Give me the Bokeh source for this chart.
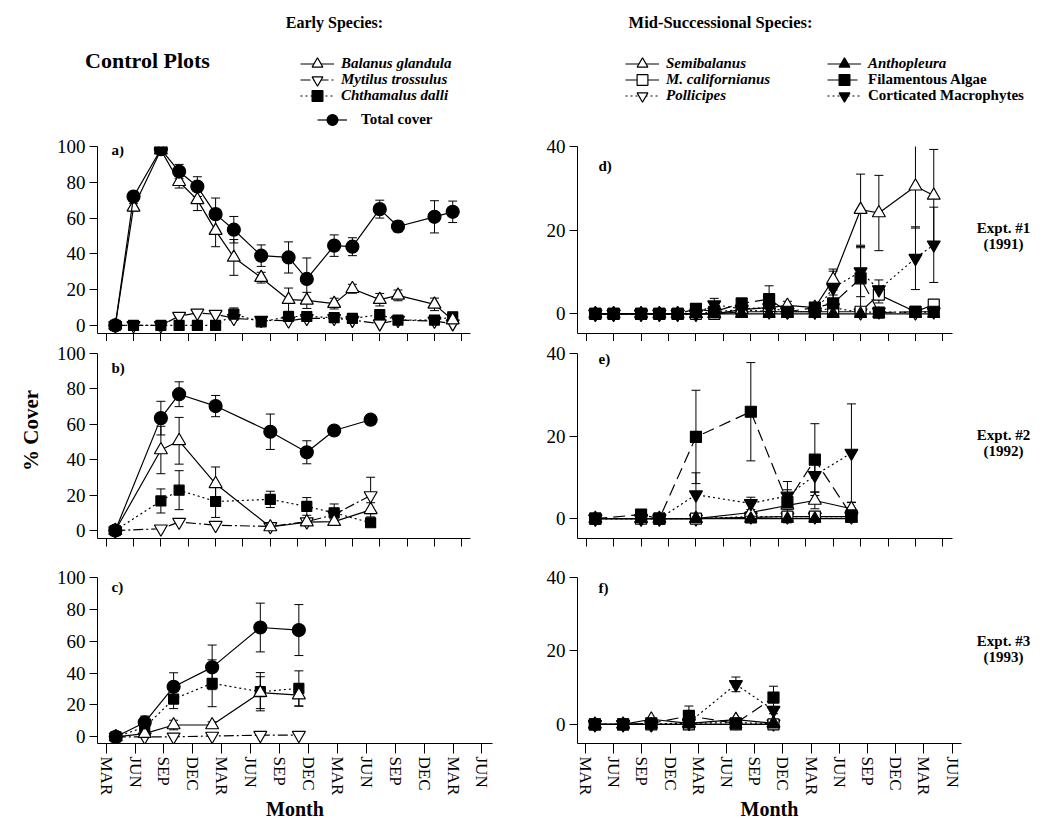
import math
from bokeh.plotting import figure
from bokeh.models import (Range1d, FixedTicker, Whisker, TeeHead, ColumnDataSource,
                          Legend, LegendItem, Label)
from bokeh.layouts import column, row
from bokeh.embed import file_html
from bokeh.resources import INLINE

FONT = "Liberation Serif"

# ---------------- axes ----------------
TICK_MONTHS = [0, 3, 6, 9, 12, 15, 18, 21, 24, 27, 30, 33, 36, 39]
TICK_LABELS = ["MAR", "JUN", "SEP", "DEC", "MAR", "JUN", "SEP", "DEC",
               "MAR", "JUN", "SEP", "DEC", "MAR", "JUN"]
LEFT_YTICKS = [0, 20, 40, 60, 80, 100]
RIGHT_YTICKS = [0, 20, 40]

# ---------------- Expt #1 (1991) : panels a, d ----------------
MONTHS_1 = [1, 3, 6, 8, 10, 12, 14, 17, 20, 22, 25, 27, 30, 32, 36, 38]
A_TOTAL = [0, 72, 98.5, 86, 77.6, 62.2, 53.5, 39, 38, 26, 44.6, 44, 65, 55.3, 60.7, 63.5]
A_TOTAL_ERR = [0, 2, 1, 4, 5.5, 9, 7.4, 6, 8.7, 11.7, 6, 5, 5, 3, 9, 6]
A_BALANUS = [0, 66, 98, 80.3, 70.2, 53, 38, 26.7, 14.4, 14, 12.2, 20.5, 14.4, 16.8, 11.8, 3]
A_BALANUS_ERR = [0, 2, 1, 3.5, 6, 9, 10, 3, 6.5, 4.5, 3, 2.5, 3.5, 3, 3.5, 1]
A_MYTILUS = [0, 0, 0, 5.2, 7, 6.3, 4, 3, 2.6, 4, 4, 3, 1, 3, 2.5, 1]
A_CHTHAMALUS = [0, 0, 0, 0, 0, 0, 6.3, 2, 5, 5, 4.4, 3.9, 6, 3, 3, 4.8]
A_CHTHAMALUS_ERR = [0, 0, 0, 0, 0, 0, 3.5, 1.5, 2, 2, 1, 1, 1, 1, 1, 1]

D_SEMI = [0, 0, 0, 0, 0, 0, 0, 1, 1.5, 2, 1.5, 8.2, 24.9, 24.1, 30.5, 28.3]
D_SEMI_ERR = [0, 0, 0, 0, 0, 0, 0, 0.5, 1, 1, 1, 2.5, 8.5, 9, 10, 11]
D_MCAL = [0, 0, 0, 0, 0, 0, 0, 0.5, 0.5, 0.5, 0.5, 0.5, 0.5, 4.6, 0.5, 2.2]
D_MCAL_ERR = [0, 0, 0, 0, 0, 0, 0, 0, 0, 0, 0, 0, 0, 2, 0, 1]
D_POLL = [0, 0, 0, 0, 0, 0, 0.5, 1, 0.5, 0.5, 0.5, 1.5, 0.3, 0.5, 0.3, 0.5]
D_ANTH = [0, 0, 0, 0, 0, 0, 0, 0, 0, 0, 0, 0, 0, 0, 0, 0]
D_FILA = [0, 0, 0, 0, 0, 1.2, 0.5, 2.5, 3.5, 0.5, 1.5, 2.5, 8.5, 0.3, 0.5, 0.5]
D_FILA_ERR = [0, 0, 0, 0, 0, 0.8, 0, 1, 3.2, 0, 0.5, 2, 7.3, 0, 0, 0]
D_CORT = [0, 0, 0, 0, 0, 0, 2.2, 1.2, 1.5, 0.5, 0.5, 6.2, 10.1, 5.8, 13.3, 16.5]
D_CORT_ERR = [0, 0, 0, 0, 0, 0, 1.5, 0.5, 0.5, 0, 0, 4, 6, 2.3, 7.5, 9]

# ---------------- Expt #2 (1992) : panels b, e ----------------
MONTHS_2 = [1, 6, 8, 12, 18, 22, 25, 29]
B_TOTAL = [0, 63.5, 77, 70.3, 55.8, 44.2, 56.5, 62.6]
B_TOTAL_ERR = [0, 9.5, 7, 6, 10, 6.5, 1.5, 2.5]
B_BALANUS = [0, 45.5, 50.7, 26.4, 2, 4.8, 5, 11.7]
B_BALANUS_ERR = [0, 13.4, 13.2, 9.5, 1, 1.5, 1.5, 4]
B_MYTILUS = [0, 1, 4.8, 3, 2.3, 5, 9, 19.8]
B_MYTILUS_ERR = [0, 0, 0, 0, 1, 0, 0, 10.3]
B_CHTHAMALUS = [0, 16.7, 22.8, 16.4, 17.6, 13.6, 10, 4.4]
B_CHTHAMALUS_ERR = [0, 6.8, 11, 9, 4.6, 5, 5, 1]

E_SEMI = [0, 0, 0, 0, 1.5, 3.2, 4.4, 2.4]
E_SEMI_ERR = [0, 0, 0, 0, 0, 1, 2, 1.5]
E_MCAL = [0, 0, 0, 0, 0.3, 0.5, 0.5, 0.5]
E_POLL = [0, 0, 0, 0, 0.5, 0.5, 0.5, 0.5]
E_ANTH = [0, 0, 0, 0, 0, 0, 0, 0]
E_FILA = [0, 1.0, 0, 19.8, 25.9, 4, 14.3, 0.8]
E_FILA_ERR = [0, 0, 0, 11.3, 11.9, 5, 8.7, 0.5]
E_CORT = [0, 0, 0, 5.8, 3.7, 5.5, 10.5, 15.9]
E_CORT_ERR = [0, 0, 0, 5.3, 1.5, 1.5, 4, 11.9]

# ---------------- Expt #3 (1993) : panels c, f ----------------
MONTHS_3 = [1, 4, 7, 11, 16, 20]
C_TOTAL = [0, 9, 31.4, 43.6, 68.6, 67]
C_TOTAL_ERR = [0, 4, 8.8, 14, 15.3, 16]
C_BALANUS = [0, 2, 7.4, 7.4, 27.7, 26.2]
C_BALANUS_ERR = [0, 1, 3, 2, 10, 7]
C_MYTILUS = [0, 0, 0, 0.5, 1, 1]
C_CHTHAMALUS = [0, 6, 23.7, 33.6, 28.3, 30.4]
C_CHTHAMALUS_ERR = [0, 4, 6, 14.7, 12, 11]

F_SEMI = [0, 0, 1.4, 0.3, 1.3, 0.3]
F_MCAL = [0, 0, 0, 0, 0, 0]
F_POLL = [0, 0, 0, 0.3, 0.5, 0.2]
F_ANTH = [0, 0, 0, 0, 0, 0]
F_FILA = [0, 0, 0.3, 2.3, 0.3, 7.3]
F_FILA_ERR = [0, 0, 0, 2.7, 0, 3.1]
F_CORT = [0, 0, 0, 0.5, 10.9, 3.9]
F_CORT_ERR = [0, 0, 0, 0, 2, 1]

EXPT_LABELS = [("Expt. #1", "(1991)"), ("Expt. #2", "(1992)"), ("Expt. #3", "(1993)")]

STYLE = {
    "Balanus glandula": dict(marker="triangle", fill="white", dash="solid", size=13),
    "Mytilus trossulus": dict(marker="inverted_triangle", fill="white", dash="10 3 2 3", size=13),
    "Chthamalus dalli": dict(marker="square", fill="black", dash="2 3", size=10),
    "Total cover": dict(marker="circle", fill="black", dash="solid", size=13),
    "Semibalanus": dict(marker="triangle", fill="white", dash="solid", size=13),
    "M. californianus": dict(marker="square", fill="white", dash="solid", size=11),
    "Pollicipes": dict(marker="inverted_triangle", fill="white", dash="2 3", size=13),
    "Anthopleura": dict(marker="triangle", fill="black", dash="solid", size=12),
    "Filamentous Algae": dict(marker="square", fill="black", dash="12 6", size=11),
    "Corticated Macrophytes": dict(marker="inverted_triangle", fill="black", dash="2 3", size=13),
}


def draw_series(p, months, vals, errs, name):
    st = STYLE[name]
    src = ColumnDataSource(dict(x=months, y=vals))
    p.line("x", "y", source=src, line_color="black", line_width=1.2, line_dash=st["dash"])
    if errs is not None:
        xs = [m for m, e in zip(months, errs) if e > 0]
        up = [v + e for v, e in zip(vals, errs) if e > 0]
        lo = [v - e for v, e in zip(vals, errs) if e > 0]
        wsrc = ColumnDataSource(dict(x=xs, upper=up, lower=lo))
        p.add_layout(Whisker(source=wsrc, base="x", upper="upper", lower="lower",
                             line_color="black", line_width=1,
                             upper_head=TeeHead(size=9, line_color="black", line_width=1),
                             lower_head=TeeHead(size=9, line_color="black", line_width=1)))
    p.scatter("x", "y", source=src, marker=st["marker"], size=st["size"],
              fill_color=st["fill"], line_color="black", line_width=1.2)


def make_panel(width, height, bl, bt, br, bb, xr, yr, yticks, show_x):
    p = figure(width=width, height=height, x_range=Range1d(*xr), y_range=Range1d(*yr),
               output_backend="svg", toolbar_location=None,
               min_border_left=bl, min_border_top=bt, min_border_right=br,
               min_border_bottom=bb)
    p.outline_line_color = None
    p.grid.visible = False
    xa = p.xaxis[0]
    ya = p.yaxis[0]
    xa.axis_line_color = "black"
    if show_x:
        xa.ticker = FixedTicker(ticks=TICK_MONTHS)
        xa.major_label_overrides = {m: l for m, l in zip(TICK_MONTHS, TICK_LABELS)}
        xa.minor_tick_line_color = None
        xa.major_tick_in = 0
        xa.major_tick_out = 10
        xa.major_tick_line_color = "black"
        xa.major_label_orientation = "vertical"
        xa.major_label_text_font = FONT
        xa.major_label_text_font_size = "17px"
        xa.major_label_text_color = "black"
        xa.major_label_standoff = 3
        xa.axis_label = "Month"
        xa.axis_label_text_font = FONT
        xa.axis_label_text_font_size = "20px"
        xa.axis_label_text_font_style = "bold"
        xa.axis_label_text_color = "black"
        xa.axis_label_standoff = 0
    else:
        # unlabelled month ticks
        xa.ticker = FixedTicker(ticks=[], minor_ticks=TICK_MONTHS)
        xa.major_tick_line_color = None
        xa.minor_tick_in = 0
        xa.minor_tick_out = 8
        xa.minor_tick_line_color = "black"
        xa.minor_tick_line_width = 1
    ya.ticker = FixedTicker(ticks=yticks)
    ya.minor_tick_line_color = None
    ya.major_tick_in = 0
    ya.major_tick_out = 8
    ya.axis_line_color = "black"
    ya.major_tick_line_color = "black"
    ya.major_label_text_font = FONT
    ya.major_label_text_font_size = "19px"
    ya.major_label_text_color = "black"
    ya.major_label_standoff = 4
    return p


def panel_letter(p, text, x, y):
    p.add_layout(Label(x=x, y=y, x_units="screen", y_units="screen", text=text,
                       text_font=FONT, text_font_size="15px", text_font_style="bold",
                       text_baseline="middle", text_align="left", text_color="black"))


def blank(width, height, x0, y0):
    f = figure(width=width, height=height, x_range=Range1d(x0, x0 + width),
               y_range=Range1d(y0 + height, y0), output_backend="svg",
               toolbar_location=None, min_border=0)
    f.axis.visible = False
    f.grid.visible = False
    f.outline_line_color = None
    return f


LW, RW = 475, 445

# ---- left column ----
pa = make_panel(LW, 211, 52, 16, 50, 8, (-0.95, 39.95), (-4.5, 100), LEFT_YTICKS, False)
draw_series(pa, MONTHS_1, A_MYTILUS, None, "Mytilus trossulus")
draw_series(pa, MONTHS_1, A_CHTHAMALUS, A_CHTHAMALUS_ERR, "Chthamalus dalli")
draw_series(pa, MONTHS_1, A_BALANUS, A_BALANUS_ERR, "Balanus glandula")
draw_series(pa, MONTHS_1, A_TOTAL, A_TOTAL_ERR, "Total cover")
panel_letter(pa, "a)", 14, 184)

pb = make_panel(LW, 209, 52, 12, 50, 10, (-0.95, 39.95), (-4.5, 100), LEFT_YTICKS, False)
draw_series(pb, MONTHS_2, B_MYTILUS, B_MYTILUS_ERR, "Mytilus trossulus")
draw_series(pb, MONTHS_2, B_CHTHAMALUS, B_CHTHAMALUS_ERR, "Chthamalus dalli")
draw_series(pb, MONTHS_2, B_BALANUS, B_BALANUS_ERR, "Balanus glandula")
draw_series(pb, MONTHS_2, B_TOTAL, B_TOTAL_ERR, "Total cover")
panel_letter(pb, "b)", 14, 171)

pc = make_panel(LW, 285, 52, 27, 28, 92, (-0.9, 40.1), (-4.2, 100), LEFT_YTICKS, True)
draw_series(pc, MONTHS_3, C_MYTILUS, None, "Mytilus trossulus")
draw_series(pc, MONTHS_3, C_CHTHAMALUS, C_CHTHAMALUS_ERR, "Chthamalus dalli")
draw_series(pc, MONTHS_3, C_BALANUS, C_BALANUS_ERR, "Balanus glandula")
draw_series(pc, MONTHS_3, C_TOTAL, C_TOTAL_ERR, "Total cover")
panel_letter(pc, "c)", 14, 157)

# ---- right column ----
pd_ = make_panel(RW, 211, 57, 14, 13, 8, (-0.95, 40.05), (-4.7, 40), RIGHT_YTICKS, False)
draw_series(pd_, MONTHS_1, D_POLL, None, "Pollicipes")
draw_series(pd_, MONTHS_1, D_MCAL, D_MCAL_ERR, "M. californianus")
draw_series(pd_, MONTHS_1, D_SEMI, D_SEMI_ERR, "Semibalanus")
draw_series(pd_, MONTHS_1, D_CORT, D_CORT_ERR, "Corticated Macrophytes")
draw_series(pd_, MONTHS_1, D_FILA, D_FILA_ERR, "Filamentous Algae")
draw_series(pd_, MONTHS_1, D_ANTH, None, "Anthopleura")
panel_letter(pd_, "d)", 21, 168)

pe = make_panel(RW, 209, 57, 12, 13, 12, (-0.95, 40.05), (-4.8, 40), RIGHT_YTICKS, False)
draw_series(pe, MONTHS_2, E_POLL, None, "Pollicipes")
draw_series(pe, MONTHS_2, E_MCAL, None, "M. californianus")
draw_series(pe, MONTHS_2, E_SEMI, E_SEMI_ERR, "Semibalanus")
draw_series(pe, MONTHS_2, E_CORT, E_CORT_ERR, "Corticated Macrophytes")
draw_series(pe, MONTHS_2, E_FILA, E_FILA_ERR, "Filamentous Algae")
draw_series(pe, MONTHS_2, E_ANTH, None, "Anthopleura")
panel_letter(pe, "e)", 21, 180)

pf = make_panel(RW, 285, 57, 25, 4, 92, (-0.85, 40.0), (-5.2, 40), RIGHT_YTICKS, True)
draw_series(pf, MONTHS_3, F_POLL, None, "Pollicipes")
draw_series(pf, MONTHS_3, F_MCAL, None, "M. californianus")
draw_series(pf, MONTHS_3, F_SEMI, None, "Semibalanus")
draw_series(pf, MONTHS_3, F_CORT, F_CORT_ERR, "Corticated Macrophytes")
draw_series(pf, MONTHS_3, F_FILA, F_FILA_ERR, "Filamentous Algae")
draw_series(pf, MONTHS_3, F_ANTH, None, "Anthopleura")
panel_letter(pf, "f)", 21, 156)

# ---- side strips for the loose texts ----
lstrip = blank(45, 705, 0, 130)
lstrip.add_layout(Label(x=30, y=430, text="% Cover", angle=math.pi / 2,
                        text_font=FONT, text_font_size="21px", text_font_style="bold",
                        text_align="center", text_baseline="middle", text_color="black"))

rstrip = blank(93, 705, 965, 130)
for (l1, l2), yc in zip(EXPT_LABELS, (227, 434, 640)):
    for t, yy in ((l1, yc), (l2, yc + 16)):
        rstrip.add_layout(Label(x=1003, y=yy, text=t, text_font=FONT, text_font_size="15px",
                                text_font_style="bold", text_align="center",
                                text_baseline="middle", text_color="black"))

# ---- header with titles and legends ----
hdr = blank(1058, 130, 0, 0)
NAN = float("nan")


def legend_row(name, x, cy, style, glyph_width=34, standoff=7):
    st = STYLE[name]
    lr = hdr.line(x=[NAN], y=[NAN], line_color="black", line_width=1.2, line_dash=st["dash"])
    sr = hdr.scatter(x=[NAN], y=[NAN], marker=st["marker"], fill_color=st["fill"],
                     line_color="black", line_width=1.2)
    lg = Legend(items=[LegendItem(label=name, renderers=[lr, sr])],
                location=(x, 130 - cy - 13.5), orientation="vertical",
                glyph_width=glyph_width, glyph_height=27, label_height=16, spacing=0,
                padding=0, margin=0, label_standoff=standoff,
                border_line_color=None, background_fill_alpha=0,
                label_text_font=FONT, label_text_font_size="15px",
                label_text_font_style=style, label_text_color="black")
    hdr.add_layout(lg)


legend_row("Balanus glandula", 300, 63, "bold italic")
legend_row("Mytilus trossulus", 300, 79, "bold italic")
legend_row("Chthamalus dalli", 300, 95, "bold italic")
legend_row("Total cover", 317, 119, "bold", glyph_width=30, standoff=14)
legend_row("Semibalanus", 625, 63, "bold italic")
legend_row("M. californianus", 625, 79, "bold italic")
legend_row("Pollicipes", 625, 95, "bold italic")
legend_row("Anthopleura", 827, 63, "bold italic")
legend_row("Filamentous Algae", 827, 79, "bold")
legend_row("Corticated Macrophytes", 827, 95, "bold")

for txt, x, y, size in (("Control Plots", 147, 60, "22px"),
                        ("Early Species:", 334, 22, "16px"),
                        ("Mid-Successional Species:", 720, 22, "16.5px")):
    hdr.add_layout(Label(x=x, y=y, text=txt, text_font=FONT, text_font_size=size,
                         text_font_style="bold", text_align="center",
                         text_baseline="middle", text_color="black"))

panels = column(row(pa, pd_), row(pb, pe), row(pc, pf))
layout = column(hdr, row(lstrip, panels, rstrip))
open("out.html", "w").write(file_html(layout, INLINE))
